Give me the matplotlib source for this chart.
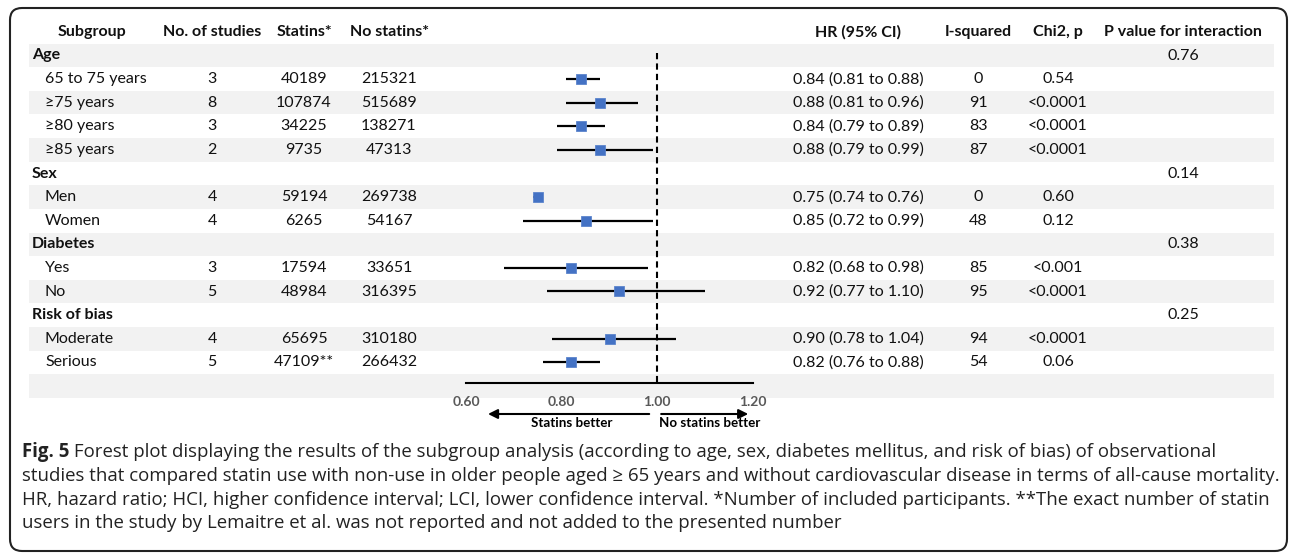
"""
Forest plot of statin use vs non-use in older people (subgroup analysis),
drawn as a table with an embedded HR axis.
"""

import matplotlib

matplotlib.use("Agg")
import matplotlib.pyplot as plt
from matplotlib.patches import FancyBboxPatch

W, H = 1292, 553
DPI = 100

TABLE_FONT = ["Lato", "DejaVu Sans"]
CAPTION_FONT = ["Open Sans", "DejaVu Sans"]
FS = 11.5

# --- data ---------------------------------------------------------------
groups = ["Age", "Sex", "Diabetes", "Risk of bias"]
group_sizes = [4, 2, 2, 2]
p_interaction = ["0.76", "0.14", "0.38", "0.25"]

subgroups = ["65 to 75 years", "≥75 years", "≥80 years", "≥85 years",
             "Men", "Women", "Yes", "No", "Moderate", "Serious"]
n_studies = [3, 8, 3, 2, 4, 4, 3, 5, 4, 5]
statins = ["40189", "107874", "34225", "9735", "59194", "6265",
           "17594", "48984", "65695", "47109**"]
no_statins = ["215321", "515689", "138271", "47313", "269738", "54167",
              "33651", "316395", "310180", "266432"]
hr = [0.84, 0.88, 0.84, 0.88, 0.75, 0.85, 0.82, 0.92, 0.90, 0.82]
hr_lo = [0.81, 0.81, 0.79, 0.79, 0.74, 0.72, 0.68, 0.77, 0.78, 0.76]
hr_hi = [0.88, 0.96, 0.89, 0.99, 0.76, 0.99, 0.98, 1.10, 1.04, 0.88]
i_squared = [0, 91, 83, 87, 0, 48, 85, 95, 94, 54]
chi2_p = ["0.54", "<0.0001", "<0.0001", "<0.0001", "0.60", "0.12",
          "<0.001", "<0.0001", "<0.0001", "0.06"]

x_ticks = [0.60, 0.80, 1.00, 1.20]

headers = ["Subgroup", "No. of studies", "Statins*", "No statins*",
           "HR (95% CI)", "I-squared", "Chi2, p", "P value for interaction"]

caption_bold = "Fig. 5"
caption_lines = [
    " Forest plot displaying the results of the subgroup analysis (according to age, sex, "
    "diabetes mellitus, and risk of bias) of observational",
    "studies that compared statin use with non-use in older people aged \u2265 65 years and "
    "without cardiovascular disease in terms of all-cause mortality.",
    "HR, hazard ratio; HCI, higher confidence interval; LCI, lower confidence interval. "
    "*Number of included participants. **The exact number of statin",
    "users in the study by Lemaitre et al. was not reported and not added to the presented number",
]

# --- layout (pixels) ----------------------------------------------------
HEAD_Y = 32
ROW0 = 55.5
ROW_H = 23.6
SHADE_X0, SHADE_X1 = 29, 1274
COL_X = [92, 212, 304, 389, 858, 978, 1058, 1183]
GROUP_X, SUB_X = 32, 45
PLOT_X0, PLOT_X1 = 466, 753
AXIS_Y = 383


def main() -> None:
    fig = plt.figure(figsize=(W / DPI, H / DPI), dpi=DPI)
    bg = fig.add_axes([0, 0, 1, 1])
    bg.set_xlim(0, W)
    bg.set_ylim(H, 0)
    bg.axis("off")

    # frame
    bg.add_patch(FancyBboxPatch((10, 8), 1277, 543, boxstyle="round,pad=0,rounding_size=12",
                                fill=False, lw=1.5, ec="#222222", clip_on=False))

    # build rows: (kind, index)
    rows = []
    k = 0
    for g, n in enumerate(group_sizes):
        rows.append(("group", g))
        for _ in range(n):
            rows.append(("sub", k))
            k += 1
    rows.append(("blank", None))
    row_y = [ROW0 + i * ROW_H for i in range(len(rows))]

    # shading on alternate rows
    shade = [y for i, y in enumerate(row_y) if i % 2 == 0]
    bg.barh(shade, SHADE_X1 - SHADE_X0, height=ROW_H, left=SHADE_X0,
            color="#f2f2f2", zorder=0)

    txt = dict(family=TABLE_FONT, fontsize=FS, va="center", color="#111111")
    for x, h in zip(COL_X, headers):
        bg.text(x, HEAD_Y, h, ha="center", fontweight="bold", **txt)

    sub_rows = []
    for (kind, idx), y in zip(rows, row_y):
        if kind == "group":
            bg.text(GROUP_X, y, groups[idx], ha="left", fontweight="bold", **txt)
            bg.text(COL_X[7], y, p_interaction[idx], ha="center", **txt)
        elif kind == "sub":
            sub_rows.append(y)
            bg.text(SUB_X, y, subgroups[idx], ha="left", **txt)
            bg.text(COL_X[1], y, str(n_studies[idx]), ha="center", **txt)
            bg.text(COL_X[2], y, statins[idx], ha="center", **txt)
            bg.text(COL_X[3], y, no_statins[idx], ha="center", **txt)
            ci = f"{hr[idx]:.2f} ({hr_lo[idx]:.2f} to {hr_hi[idx]:.2f})"
            bg.text(COL_X[4], y, ci, ha="center", **txt)
            bg.text(COL_X[5], y, str(i_squared[idx]), ha="center", **txt)
            bg.text(COL_X[6], y, chi2_p[idx], ha="center", **txt)

    # --- forest axes --------------------------------------------------------
    top_px = ROW0 - ROW_H / 2
    ax = fig.add_axes([PLOT_X0 / W, 1 - AXIS_Y / H,
                       (PLOT_X1 - PLOT_X0) / W, (AXIS_Y - top_px) / H])
    ax.patch.set_alpha(0)
    ax.set_xlim(x_ticks[0], x_ticks[-1])
    ax.set_ylim(AXIS_Y, top_px)
    for s in ("top", "left", "right"):
        ax.spines[s].set_visible(False)
    ax.spines["bottom"].set_linewidth(1.5)
    ax.set_yticks([])
    ax.set_xticks(x_ticks)
    ax.set_xticklabels([f"{t:.2f}" for t in x_ticks], family=TABLE_FONT,
                       fontsize=10, fontweight="bold", color="#595959")
    ax.tick_params(axis="x", length=0, pad=9)

    ax.vlines(1.0, ROW0 - 2.5, AXIS_Y, colors="black", lw=1.5, linestyles=(0, (3, 2)))
    ax.hlines(sub_rows, hr_lo, hr_hi, colors="black", lw=1.6, zorder=2)
    ax.plot(hr, sub_rows, "s", ms=7.5, color="#4472C4", mec="#5b84cc", mew=0.6, zorder=3)

    arrow_y = AXIS_Y + 31
    ap = dict(arrowstyle="-|>", lw=1.5, color="black", mutation_scale=14,
              shrinkA=0, shrinkB=0)
    ax.annotate("", xy=(0.646, arrow_y), xytext=(0.983, arrow_y), arrowprops=ap,
                annotation_clip=False)
    ax.annotate("", xy=(1.19, arrow_y), xytext=(1.008, arrow_y), arrowprops=ap,
                annotation_clip=False)
    lab = dict(family=TABLE_FONT, fontsize=9.6, fontweight="bold", ha="center",
               va="center", clip_on=False)
    ax.text(0.822, arrow_y + 9, "Statins better", **lab)
    ax.text(1.11, arrow_y + 9, "No statins better", **lab)

    # --- caption ------------------------------------------------------------
    cap = dict(family=CAPTION_FONT, fontsize=13.4, va="center", color="#222222")
    first = bg.text(22, 452, caption_bold, ha="left", fontweight="bold", **cap)
    fig.canvas.draw()
    bb = first.get_window_extent().transformed(bg.transData.inverted())
    bg.text(bb.x1, 452, caption_lines[0], ha="left", **cap)
    for i, line in enumerate(caption_lines[1:], start=1):
        bg.text(22, 452 + i * 23.8, line, ha="left", **cap)

    fig.savefig("out.png", dpi=DPI)
    plt.close(fig)


if __name__ == "__main__":
    main()
